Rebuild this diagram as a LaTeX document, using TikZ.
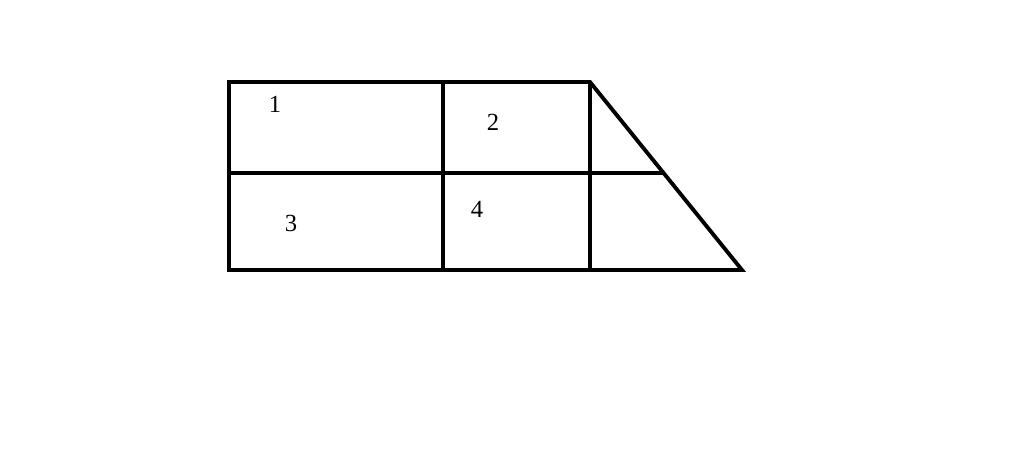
\documentclass[tikz,border=0pt]{standalone}
\usepackage{fontspec}
\setmainfont{Liberation Serif}
\usetikzlibrary{positioning}

\begin{document}
\begin{tikzpicture}[x=0.02cm,y=-0.02cm,line width=2.2pt,
    num/.style={font=\fontsize{14}{17}\selectfont}]

\useasboundingbox (0,0) rectangle (1024,472);

\coordinate (TL) at (229,82);
\coordinate (TM) at (443,82);
\coordinate (TR) at (590,82);
\coordinate (ML) at (229,173);
\coordinate (MR) at (663.6,173);
\coordinate (BL) at (229,270);
\coordinate (BM) at (443,270);
\coordinate (BR) at (590,270);
\coordinate (BD) at (742,270);

\draw (TL) -- (TR) -- (BD) -- (BL) -- cycle;
\draw (ML) -- (MR);
\draw (TM) -- (BM);
\draw (TR) -- (BR);

\node[num] (L1) at (275,104) {1};
\node[num] (L2) at (493,122.5) {2};
\node[num] (L3) at (291,223) {3};
\node[num] (L4) at (477,209) {4};

\end{tikzpicture}
\end{document}
